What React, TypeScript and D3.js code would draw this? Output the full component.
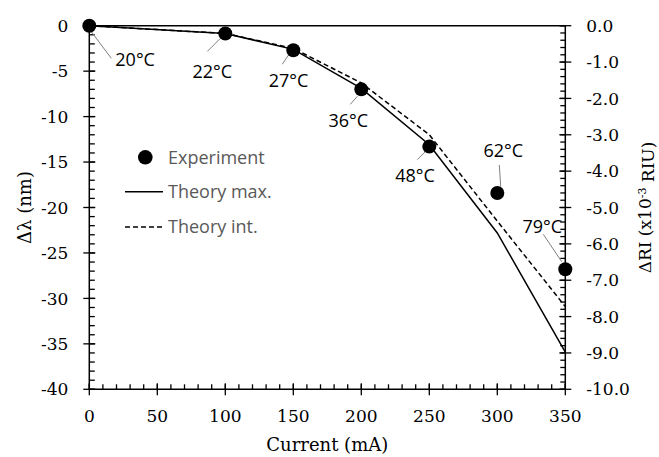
import React from "react";
import * as d3 from "d3";

const currents = [0, 100, 150, 200, 250, 300, 350];
const experiment = [0, -0.85, -2.7, -7.0, -13.3, -18.4, -26.8];
const theoryMax = [0, -0.85, -2.6, -6.9, -13.1, -22.8, -35.9];
const theoryInt = [0, -0.85, -2.5, -6.3, -12.0, -21.5, -30.9];
const tempLabels = ["20°C", "22°C", "27°C", "36°C", "48°C", "62°C", "79°C"];

const xTicks = [0, 50, 100, 150, 200, 250, 300, 350];
const yTicks = [0, -5, -10, -15, -20, -25, -30, -35, -40];
const y2Ticks = [0, -1, -2, -3, -4, -5, -6, -7, -8, -9, -10];

// annotation layout (pixel offsets from the point): text center, leader start, leader end
const annot = [
  { tx: 46, ty: 34, x1: 2, y1: 6, x2: 22, y2: 32.6 },
  { tx: -13, ty: 37.6, x1: -5, y1: 5, x2: -18, y2: 18 },
  { tx: -4.8, ty: 30.5, x1: -5, y1: 5, x2: -11, y2: 14 },
  { tx: -13, ty: 30.7, x1: -4, y1: 7, x2: -11, y2: 15 },
  { tx: -14.3, ty: 29, x1: -4, y1: 5, x2: -12, y2: 13 },
  { tx: 6, ty: -42, x1: 2, y1: -28, x2: 3.4, y2: -6.3 },
  { tx: -23, ty: -43, x1: -22, y1: -35, x2: -3.6, y2: -7.6 },
];

const W = 659;
const H = 457;
const L = 89.3, R = 565.3, T = 25.7, B = 389.3;

export default function App() {
  const x = d3.scaleLinear().domain([0, 350]).range([L, R]);
  const y = d3.scaleLinear().domain([0, -40]).range([T, B]);
  const y2 = d3.scaleLinear().domain([0, -10]).range([T, B]);

  const xMinor = d3.range(0, 351, 10);
  const yMinor = d3.range(0, -41, -1);
  const y2Minor = d3.range(0, 51).map((i) => -i * 0.2);

  const line = d3
    .line<number>()
    .x((_, i) => x(currents[i]))
    .y((d) => y(d));

  const serif = "'DejaVu Serif', serif";
  const sans = "'Open Sans', sans-serif";
  const fs = 18;

  return (
    <svg width={W} height={H} style={{ position: "absolute", left: 0, top: 0 }}>
      <rect width={W} height={H} fill="white" />
      {/* frame */}
      <line x1={L} x2={R} y1={T} y2={T} stroke="black" strokeWidth={1.5} />
      <line x1={L} x2={R} y1={B} y2={B} stroke="black" strokeWidth={1.5} />
      <line x1={L} x2={L} y1={T} y2={B} stroke="black" strokeWidth={1.5} />
      <line x1={R} x2={R} y1={T} y2={B} stroke="black" strokeWidth={1.5} />

      {/* bottom ticks */}
      {xMinor.map((v) => (
        <line key={"xm" + v} x1={x(v)} x2={x(v)} y1={B} y2={B - 5} stroke="black" strokeWidth={1.3} />
      ))}
      {xTicks.map((v) => (
        <g key={"x" + v}>
          <line x1={x(v)} x2={x(v)} y1={B - 6} y2={B + 6} stroke="black" strokeWidth={1.3} />
          <text x={x(v)} y={B + 33} textAnchor="middle" fontFamily={serif} fontSize={17} fill="#000">
            {v}
          </text>
        </g>
      ))}
      {/* left ticks */}
      {yMinor.map((v) => (
        <line key={"ym" + v} x1={L} x2={L + 5.5} y1={y(v)} y2={y(v)} stroke="black" strokeWidth={1.3} />
      ))}
      {yTicks.map((v) => (
        <g key={"y" + v}>
          <line x1={L - 6} x2={L + 6} y1={y(v)} y2={y(v)} stroke="black" strokeWidth={1.3} />
          <text x={L - 21} y={y(v)} dy="0.36em" textAnchor="end" fontFamily={serif} fontSize={17} fill="#000">
            {v === 0 ? "0" : "-" + Math.abs(v)}
          </text>
        </g>
      ))}
      {/* right ticks */}
      {y2Minor.map((v, i) => (
        <line key={"y2m" + i} x1={R - 5} x2={R} y1={y2(v)} y2={y2(v)} stroke="black" strokeWidth={1.3} />
      ))}
      {y2Ticks.map((v) => (
        <g key={"y2" + v}>
          <line x1={R - 6} x2={R + 6} y1={y2(v)} y2={y2(v)} stroke="black" strokeWidth={1.3} />
          <text x={R + 21} y={y2(v)} dy="0.36em" textAnchor="start" fontFamily={serif} fontSize={17} fill="#000">
            {v === 0 ? "0.0" : "-" + Math.abs(v).toFixed(1)}
          </text>
        </g>
      ))}

      {/* axis titles */}
      <text x={(L + R) / 2} y={451} textAnchor="middle" fontFamily={serif} fontSize={18} fill="#000">
        Current (mA)
      </text>
      <text
        transform={`translate(25,${(T + B) / 2}) rotate(-90)`}
        textAnchor="middle"
        dy="0.35em"
        fontFamily={serif}
        fontSize={18}
        fill="#000"
      >
        Δλ (nm)
      </text>
      <text
        transform={`translate(646,${(T + B) / 2}) rotate(-90)`}
        textAnchor="middle"
        dy="0.3em"
        fontFamily={serif}
        fontSize={17}
        fill="#000"
      >
        ΔRI (x10
        <tspan dy="-0.45em" fontSize={11}>-3</tspan>
        <tspan dy="0.45em"> RIU)</tspan>
      </text>

      {/* lines */}
      <path d={line(theoryMax) || ""} fill="none" stroke="black" strokeWidth={1.5} />
      <path d={line(theoryInt) || ""} fill="none" stroke="black" strokeWidth={1.5} strokeDasharray="5,3" />

      {/* leaders + labels */}
      {experiment.map((v, i) => {
        const px = x(currents[i]);
        const py = y(v);
        const a = annot[i];
        return (
          <g key={"a" + i}>
            <line x1={px + a.x1} y1={py + a.y1} x2={px + a.x2} y2={py + a.y2} stroke="#7f7f7f" strokeWidth={1} />
            <text
              x={px + (i === 0 ? 26 : a.tx)}
              y={py + a.ty}
              dy="0.36em"
              textAnchor={i === 0 ? "start" : "middle"}
              fontFamily={sans}
              fontSize={fs}
              fill="#000"
            >
              {tempLabels[i]}
            </text>
          </g>
        );
      })}

      {/* points */}
      {experiment.map((v, i) => (
        <circle key={"p" + i} cx={x(currents[i])} cy={y(v)} r={7} fill="black" />
      ))}

      {/* legend */}
      <circle cx={145.3} cy={157.3} r={7.3} fill="black" />
      <text x={168} y={157.3} dy="0.36em" fontFamily={sans} fontSize={fs} fill="#595959">
        Experiment
      </text>
      <line x1={125} x2={163} y1={191.7} y2={191.7} stroke="black" strokeWidth={1.5} />
      <text x={168} y={191.7} dy="0.36em" fontFamily={sans} fontSize={fs} fill="#595959">
        Theory max.
      </text>
      <line x1={125} x2={163} y1={227} y2={227} stroke="black" strokeWidth={1.5} strokeDasharray="5,3" />
      <text x={168} y={227} dy="0.36em" fontFamily={sans} fontSize={fs} fill="#595959">
        Theory int.
      </text>
    </svg>
  );
}
